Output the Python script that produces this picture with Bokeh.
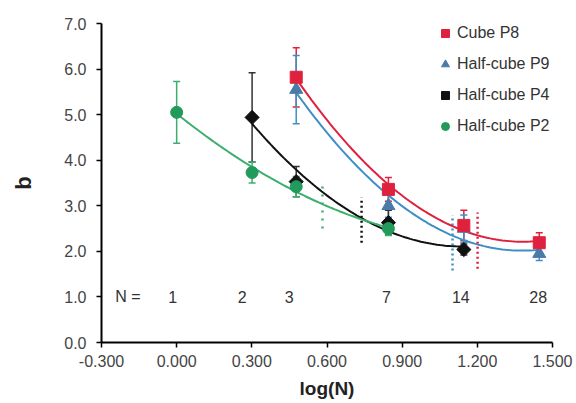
import numpy as np
from bokeh.plotting import figure
from bokeh.models import (ColumnDataSource, Whisker, TeeHead, Legend, LegendItem,
                          Label, FixedTicker, Range1d, NumeralTickFormatter)
from bokeh.embed import file_html
from bokeh.resources import INLINE
from bokeh.core.properties import value

# ---------------- data ----------------
series_names = ["Cube P8", "Half-cube P9", "Half-cube P4", "Half-cube P2"]

p8_N = [3, 7, 14, 28]
p8_b = [5.82, 3.36, 2.57, 2.19]
p8_err = [0.65, 0.26, 0.33, 0.22]

p9_N = [3, 7, 14, 28]
p9_b = [5.55, 3.00, 2.50, 1.95]
p9_err = [0.75, 0.25, 0.30, 0.15]

p4_N = [2, 3, 7, 14]
p4_b = [4.94, 3.53, 2.63, 2.04]
p4_err = [0.98, 0.33, 0.27, 0.12]

p2_N = [1, 2, 3, 7]
p2_b = [5.05, 3.73, 3.42, 2.50]
p2_err = [0.68, 0.23, 0.22, 0.15]

# dotted vertical markers (log N, lower b, upper b)
cutoff_logN = [0.582, 0.738, 1.101, 1.201]
cutoff_low = [2.50, 2.19, 1.58, 1.62]
cutoff_high = [3.49, 3.18, 2.79, 2.85]

n_labels = [1, 2, 3, 7, 14, 28]
x_ticks = [-0.3, 0.0, 0.3, 0.6, 0.9, 1.2, 1.5]
y_ticks = [0, 1, 2, 3, 4, 5, 6, 7]

# ---------------- styles ----------------
FONT = "Liberation Sans"
col_p8 = "#e0213e"
col_p9_mark = "#4a7aa8"
col_p9_line = "#3f8fc6"
col_p4 = "#111111"
col_p2_mark = "#229a5c"
col_p2_line = "#3caf6c"

p = figure(width=576, height=403, x_range=Range1d(-0.3, 1.5), y_range=Range1d(0, 7),
           output_backend="svg", toolbar_location=None,
           min_border_left=101, min_border_right=24, min_border_top=23, min_border_bottom=61)
p.outline_line_color = None
p.xgrid.visible = False
p.ygrid.visible = False
p.background_fill_color = "white"

for ax in (p.xaxis[0], p.yaxis[0]):
    ax.axis_line_color = "black"
    ax.axis_line_width = 2
    ax.major_tick_line_color = "black"
    ax.major_tick_line_width = 1.5
    ax.major_tick_out = 5
    ax.major_tick_in = 0
    ax.minor_tick_line_color = None
    ax.major_label_text_font = FONT
    ax.major_label_text_font_size = "16px"
    ax.major_label_text_color = "#444444"
    ax.axis_label_text_font = FONT
    ax.axis_label_text_font_style = "bold"
    ax.axis_label_text_color = "#222222"

p.xaxis.ticker = FixedTicker(ticks=x_ticks, minor_ticks=[])
p.yaxis.ticker = FixedTicker(ticks=y_ticks, minor_ticks=[])
p.xaxis.formatter = NumeralTickFormatter(format="0.000")
p.yaxis.formatter = NumeralTickFormatter(format="0.0")
p.xaxis.axis_label = "log(N)"
p.yaxis.axis_label = "b"
p.xaxis.axis_label_text_font_size = "19px"
p.yaxis.axis_label_text_font_size = "22px"
p.xaxis.major_label_standoff = 7
p.xaxis.axis_label_standoff = 8
p.yaxis.major_label_standoff = 10
p.yaxis.axis_label_standoff = 25

# dotted vertical markers
cut_colors = [col_p2_line, col_p4, col_p9_line, col_p8]
cut_dash = ["2 6", "2 3", "2 3", "2 3"]
for xv, lo, hi, c, d in zip(cutoff_logN, cutoff_low, cutoff_high, cut_colors, cut_dash):
    p.segment(x0=[xv], y0=[lo], x1=[xv], y1=[hi], line_color=c, line_width=2.5, line_dash=d)

series = [
    (p8_N, p8_b, p8_err, col_p8, col_p8, col_p8, "square", 12, 0.0),
    (p9_N, p9_b, p9_err, col_p9_mark, col_p9_line, col_p9_line, "triangle", 13, 0.0),
    (p4_N, p4_b, p4_err, col_p4, col_p4, "#333333", "square", 10, np.pi / 4),
    (p2_N, p2_b, p2_err, col_p2_mark, col_p2_line, col_p2_line, "circle", 12, 0.0),
]

# trendlines (2nd-order polynomial fitted to each series, like the original's trendline)
for N, b, err, mc, lc, ec, mk, sz, ang in series:
    lx = np.log10(N)
    coef = np.polyfit(lx, b, 2)
    xs = np.linspace(lx[0], lx[-1], 80)
    p.line(xs, np.polyval(coef, xs), line_color=lc, line_width=2)

# error bars
for N, b, err, mc, lc, ec, mk, sz, ang in series:
    lx = np.log10(N)
    src = ColumnDataSource(dict(x=lx, upper=np.array(b) + np.array(err),
                                lower=np.array(b) - np.array(err)))
    w = Whisker(base="x", upper="upper", lower="lower", source=src,
                line_color=ec, line_width=1.5,
                upper_head=TeeHead(size=7, line_color=ec, line_width=1.5),
                lower_head=TeeHead(size=7, line_color=ec, line_width=1.5))
    p.add_layout(w)

# markers (drawn P9 first so the P8 square sits on top where they overlap)
renderers = {}
draw_order = [1, 0, 2, 3]
for i in draw_order:
    N, b, err, mc, lc, ec, mk, sz, ang = series[i]
    r = p.scatter(np.log10(N), b, marker=mk, size=sz, angle=ang,
                  fill_color=mc, line_color=mc, line_width=1)
    renderers[i] = r

legend = Legend(items=[LegendItem(label=series_names[i], renderers=[renderers[i]]) for i in range(4)],
                location=(334, 206), glyph_width=20, glyph_height=20, label_standoff=2,
                spacing=11, padding=0, label_height=20, margin=0,
                border_line_color=None, background_fill_alpha=0,
                label_text_font=FONT, label_text_font_size="16px", label_text_color="#333333")
p.add_layout(legend)

# N labels along the bottom of the plot
label_offsets = [-4, -10, -7, -2, -3, -1]
p.text(x=np.log10(n_labels), y=[1.0] * len(n_labels), text=[str(n) for n in n_labels],
       x_offset=label_offsets, text_align="center", text_baseline="middle",
       text_font=value(FONT), text_font_size="16px", text_color="#333333")
p.add_layout(Label(x=-0.245, y=1.0, text="N =", text_align="left", text_baseline="middle",
                   text_font=FONT, text_font_size="16px", text_color="#333333"))

open("out.html", "w").write(file_html(p, INLINE))
